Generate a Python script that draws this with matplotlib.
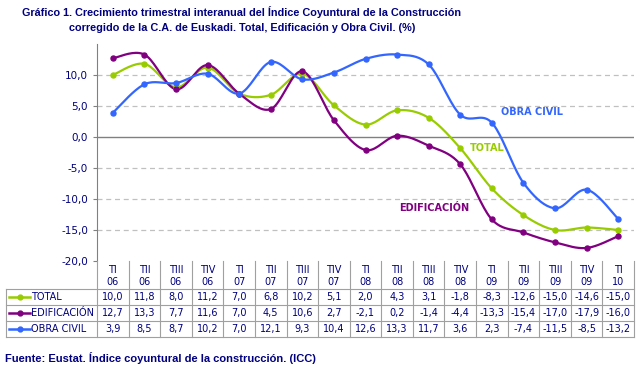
import numpy as np
import matplotlib
matplotlib.use("Agg")
import matplotlib.pyplot as plt
from matplotlib.transforms import blended_transform_factory
from matplotlib.lines import Line2D

quarters = ["TI", "TII", "TIII", "TIV", "TI", "TII", "TIII", "TIV", "TI", "TII",
            "TIII", "TIV", "TI", "TII", "TIII", "TIV", "TI"]
years = ["06", "06", "06", "06", "07", "07", "07", "07", "08", "08",
         "08", "08", "09", "09", "09", "09", "10"]
total = [10.0, 11.8, 8.0, 11.2, 7.0, 6.8, 10.2, 5.1, 2.0, 4.3, 3.1, -1.8,
         -8.3, -12.6, -15.0, -14.6, -15.0]
edificacion = [12.7, 13.3, 7.7, 11.6, 7.0, 4.5, 10.6, 2.7, -2.1, 0.2, -1.4, -4.4,
               -13.3, -15.4, -17.0, -17.9, -16.0]
obra_civil = [3.9, 8.5, 8.7, 10.2, 7.0, 12.1, 9.3, 10.4, 12.6, 13.3, 11.7, 3.6,
              2.3, -7.4, -11.5, -8.5, -13.2]
series_names = ["TOTAL", "EDIFICACIÓN", "OBRA CIVIL"]
series_vals = [total, edificacion, obra_civil]
colors = ["#99CC00", "#800080", "#3366FF"]
navy = "#000080"

W, H = 641, 375
fig = plt.figure(figsize=(W / 100, H / 100), dpi=100)
fig.patch.set_facecolor("white")

def fx(px):
    return px / W

def fy(py):
    return 1 - py / H

ax_left, ax_right, ax_top, ax_bot = 97, 634, 44, 261
ax = fig.add_axes([fx(ax_left), fy(ax_bot), fx(ax_right - ax_left), (ax_bot - ax_top) / H])
n = len(total)
ax.set_xlim(-0.5, n - 0.5)
ax.set_ylim(-20, 15)
ax.set_yticks(np.arange(-20, 15, 5))
ax.set_yticklabels([f"{v:.1f}".replace(".", ",") for v in np.arange(-20, 15, 5)])
ax.tick_params(axis="y", colors="#808080", labelcolor=navy, labelsize=7.5, length=3, direction="out")
ax.set_xticks([])
for s in ["top", "right", "bottom"]:
    ax.spines[s].set_visible(False)
ax.spines["left"].set_color("#808080")
for v in [-15, -10, -5, 5, 10]:
    ax.axhline(v, color="#C0C0C0", lw=0.9, ls=(0, (4, 3)), zorder=0)
ax.axhline(0, color="#808080", lw=1.0, zorder=1)

def catmull(xs, ys, steps=20):
    xs = np.asarray(xs, float)
    ys = np.asarray(ys, float)
    P = np.column_stack([xs, ys])
    P = np.vstack([P[0], P, P[-1]])
    out = []
    for i in range(1, len(P) - 2):
        p0, p1, p2, p3 = P[i - 1], P[i], P[i + 1], P[i + 2]
        t = np.linspace(0, 1, steps, endpoint=False)[:, None]
        seg = 0.5 * ((2 * p1) + (-p0 + p2) * t + (2 * p0 - 5 * p1 + 4 * p2 - p3) * t ** 2
                     + (-p0 + 3 * p1 - 3 * p2 + p3) * t ** 3)
        out.append(seg)
    out.append(P[-2][None, :])
    out = np.vstack(out)
    return out[:, 0], out[:, 1]

x = np.arange(n)
for vals, c in zip(series_vals, colors):
    sx, sy = catmull(x, vals)
    ax.plot(sx, sy, color=c, lw=1.6, zorder=3, solid_capstyle="round")
    ax.plot(x, vals, ls="none", marker="o", ms=3.6, color=c, zorder=4)

lab_font = dict(fontsize=7, fontweight="bold", family="DejaVu Sans", va="center")
ax.text(12.3, 4.1, "OBRA CIVIL", color=colors[2], **lab_font)
ax.text(11.3, -1.8, "TOTAL", color=colors[0], **lab_font)
ax.text(9.05, -11.5, "EDIFICACIÓN", color=colors[1], **lab_font)

# Table
trans = blended_transform_factory(ax.transData, fig.transFigure)
rows = [261, 289, 305, 321, 337]
grid_c = "#A0A0A0"
for py in rows[1:]:
    fig.add_artist(Line2D([fx(6), fx(ax_right)], [fy(py), fy(py)], color=grid_c, lw=0.8))
for i in range(n + 1):
    xv = i - 0.5
    fig.add_artist(Line2D([xv, xv], [fy(rows[0]), fy(rows[-1])], color=grid_c, lw=0.8,
                          transform=trans))
fig.add_artist(Line2D([fx(6), fx(6)], [fy(rows[1]), fy(rows[-1])], color=grid_c, lw=0.8))

for i in range(n):
    fig.text(i, fy(270), quarters[i], transform=trans, ha="center", va="center",
             color=navy, fontsize=7)
    fig.text(i, fy(282), years[i], transform=trans, ha="center", va="center",
             color=navy, fontsize=7)
    for r, vals in enumerate(series_vals):
        yc = (rows[r + 1] + rows[r + 2]) / 2
        fig.text(i, fy(yc), f"{vals[i]:.1f}".replace(".", ","),
                 transform=trans, ha="center", va="center", color=navy, fontsize=7)

for r, (name, c) in enumerate(zip(series_names, colors)):
    yc = (rows[r + 1] + rows[r + 2]) / 2
    fig.add_artist(Line2D([fx(9), fx(30)], [fy(yc), fy(yc)], color=c, lw=1.8))
    fig.add_artist(Line2D([fx(19.5)], [fy(yc)], color=c, marker="o", ms=3.5, ls="none"))
    fig.text(fx(31), fy(yc), name, ha="left", va="center", color=navy, fontsize=7)

title_font = dict(color=navy, fontsize=7.8, fontweight="bold", family="Liberation Sans")
fig.text(fx(242), fy(12), "Gráfico 1. Crecimiento trimestral interanual del Índice Coyuntural de la Construcción",
         ha="center", va="center", **title_font)
fig.text(fx(242), fy(28), "corregido de la C.A. de Euskadi. Total, Edificación y Obra Civil. (%)",
         ha="center", va="center", **title_font)
fig.text(fx(5), fy(358), "Fuente: Eustat. Índice coyuntural de la construcción. (ICC)",
         ha="left", va="center", color=navy, fontsize=8, fontweight="bold", family="Liberation Sans")

fig.savefig("out.png", dpi=100)
